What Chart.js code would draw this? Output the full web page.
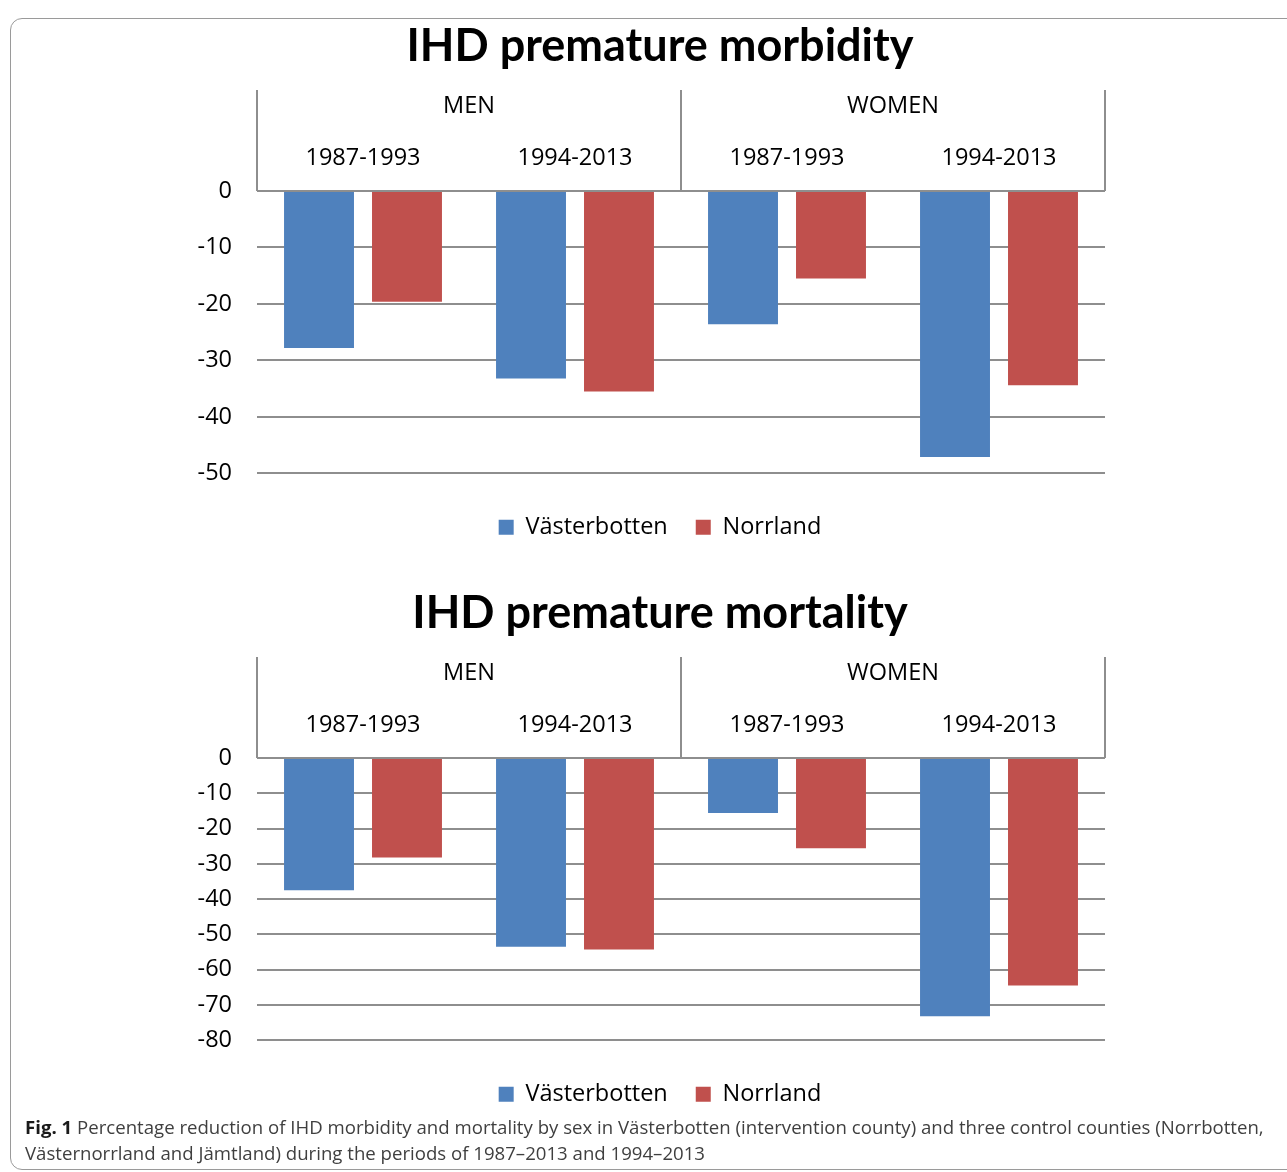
<!DOCTYPE html>
<html>
<head>
<meta charset="utf-8">
<script src="https://cdn.jsdelivr.net/npm/chart.js@4"></script>
<style>
  html, body { margin:0; padding:0; background:#fff; overflow:hidden; width:1287px; height:1172px; }
  #frame { position:absolute; left:10px; top:18px; width:1300px; height:1150px; border:1.5px solid #9a9a9a; border-radius:12px; }
  .cv { position:absolute; left:0; width:1287px; height:567px; }
  #c1wrap { top:0; } #c2wrap { top:567px; }
  #caption { position:absolute; left:25px; top:1114px; font-family:"Open Sans",sans-serif; font-size:18px; line-height:26px; color:#3f3f3f; white-space:nowrap; }
  #caption b { color:#1a1a1a; }
</style>
</head>
<body>
<div id="frame"></div>
<div class="cv" id="c1wrap"><canvas id="c1" width="1287" height="567"></canvas></div>
<div class="cv" id="c2wrap"><canvas id="c2" width="1287" height="567"></canvas></div>
<div id="caption"><span id="cap1"><b>Fig. 1</b> Percentage reduction of IHD morbidity and mortality by sex in Västerbotten (intervention county) and three control counties (Norrbotten,</span><br><span>Västernorrland and Jämtland) during the periods of 1987–2013 and 1994–2013</span></div>
<script>
const periods = ['1987-1993', '1994-2013', '1987-1993', '1994-2013'];
const sexes = ['MEN', 'WOMEN'];
const seriesNames = ['Västerbotten', 'Norrland'];
const morbidityVasterbotten = [-27.8, -33.2, -23.6, -47.1];
const morbidityNorrland = [-19.6, -35.5, -15.5, -34.4];
const mortalityVasterbotten = [-37.5, -53.5, -15.6, -73.2];
const mortalityNorrland = [-28.2, -54.3, -25.6, -64.5];
const morbidityTicks = {min: -50, max: 0, step: 10};
const mortalityTicks = {min: -80, max: 0, step: 10};

const BLUE = '#4F81BD', RED = '#C0504D', GRID = '#8e8e8e';
const FONT = 'Open Sans';
const TITLE_FONT = 'Lato';

// fit caption first line to the reference width
(function () {
  const cap = document.getElementById('caption');
  const w = document.getElementById('cap1').getBoundingClientRect().width;
  cap.style.fontSize = (18 * 1240 / w).toFixed(2) + 'px';
})();

const headerLines = {
  id: 'headerLines',
  afterLayout(chart) {
    // widen the label clip region of the y axis so long tick labels are not cut
    const y = chart.scales.y;
    y.left = y.right - 110;
  },
  afterDraw(chart) {
    const s = chart.scales.sex, p = chart.scales.x, ctx = chart.ctx;
    const mid = (p.getPixelForTick(1) + p.getPixelForTick(2)) / 2;
    ctx.save();
    ctx.strokeStyle = GRID; ctx.lineWidth = 2;
    [s.left, mid, s.right].forEach(x => {
      ctx.beginPath(); ctx.moveTo(x, s.top); ctx.lineTo(x, p.bottom); ctx.stroke();
    });
    ctx.restore();
  }
};

function makeChart(id, title, vData, nData, yt) {
  return new Chart(document.getElementById(id), {
    type: 'bar',
    data: {
      labels: periods,
      datasets: [
        {label: seriesNames[0], data: vData, backgroundColor: BLUE, borderWidth: 0},
        {label: seriesNames[1], data: nData, backgroundColor: RED, borderWidth: 0}
      ]
    },
    options: {
      responsive: false,
      animation: false,
      events: [],
      categoryPercentage: 0.83,
      barPercentage: 0.795,
      layout: {padding: {left: 215, right: 182, top: 0, bottom: 18}},
      scales: {
        x: {
          type: 'category', position: 'top', weight: 0,
          grid: {display: false, drawTicks: false},
          border: {display: false},
          ticks: {font: {family: FONT, size: 23.5}, color: '#000', padding: 19, maxRotation: 0},
          afterFit(s) { s.height = 51; }
        },
        sex: {
          type: 'category', position: 'top', weight: 1, labels: sexes, offset: true,
          grid: {display: false, drawTicks: false},
          border: {display: false},
          ticks: {font: {family: FONT, size: 23.5}, color: '#000', padding: 20, maxRotation: 0},
          afterFit(s) { s.height = 50; }
        },
        y: {
          min: yt.min, max: yt.max,
          ticks: {stepSize: yt.step, font: {family: FONT, size: 23.5}, color: '#000', padding: 25},
          grid: {color: GRID, lineWidth: 2, drawTicks: false},
          border: {display: false},
          afterFit(s) { s.width = 42; }
        }
      },
      plugins: {
        title: {display: true, text: title, color: '#000',
                font: {family: TITLE_FONT, size: 45, weight: 'bold'},
                padding: {top: 19, bottom: 17}},
        legend: {
          position: 'bottom',
          title: {display: true, text: ' ', font: {size: 1}, padding: {top: 6, bottom: 7}},
          labels: {boxWidth: 15, boxHeight: 15, padding: 28, color: '#000',
                   font: {family: FONT, size: 23.5}}
        },
        tooltip: {enabled: false}
      }
    },
    plugins: [headerLines]
  });
}

makeChart('c1', 'IHD premature morbidity', morbidityVasterbotten, morbidityNorrland, morbidityTicks);
makeChart('c2', 'IHD premature mortality', mortalityVasterbotten, mortalityNorrland, mortalityTicks);
</script>
</body>
</html>
